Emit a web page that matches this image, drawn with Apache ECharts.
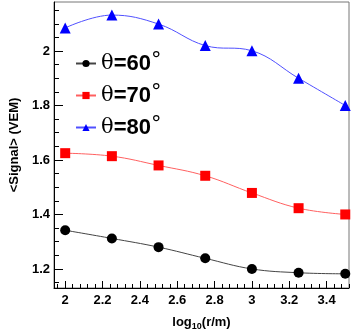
<!DOCTYPE html>
<html>
<head>
<meta charset="utf-8">
<script src="https://cdn.jsdelivr.net/npm/echarts@6/dist/echarts.min.js"></script>
<style>
  html, body { margin: 0; padding: 0; background: #fff; }
  #main { width: 354px; height: 336px; }
</style>
</head>
<body>
<div id="main"></div>
<script>
// data
var logR = [2, 2.25, 2.5, 2.75, 3, 3.25, 3.5];
var theta60 = [1.342, 1.312, 1.280, 1.239, 1.200, 1.186, 1.182];
var theta70 = [1.625, 1.614, 1.580, 1.542, 1.479, 1.423, 1.400];
var theta80 = [2.085, 2.132, 2.099, 2.020, 2.001, 1.900, 1.800];
var seriesNames = ['θ=60°', 'θ=70°', 'θ=80°'];

var xMajor = [2, 2.2, 2.4, 2.6, 2.8, 3, 3.2, 3.4];
var xMinor = [1.96, 2.04, 2.08, 2.12, 2.16, 2.24, 2.28, 2.32, 2.36, 2.44, 2.48, 2.52, 2.56,
  2.64, 2.68, 2.72, 2.76, 2.84, 2.88, 2.92, 2.96, 3.04, 3.08, 3.12, 3.16, 3.24, 3.28, 3.32,
  3.36, 3.44, 3.48, 3.52];
var yMajor = [1.2, 1.4, 1.6, 1.8, 2];
var yMinor = [1.15, 1.25, 1.3, 1.35, 1.45, 1.5, 1.55, 1.65, 1.7, 1.75, 1.85, 1.9, 1.95, 2.05, 2.1, 2.15];

var X_MIN = 1.94, X_MAX = 3.52, Y_MIN = 1.13, Y_MAX = 2.18;

var chart = echarts.init(document.getElementById('main'));

var labelFont = { fontFamily: 'Liberation Sans', fontWeight: 'bold', fontSize: 13, color: '#000' };

function pairs(ys) {
  return logR.map(function (x, i) { return [x, ys[i]]; });
}

var option = {
  animation: false,
  grid: {
    left: 45, right: 5, top: 2, bottom: 38,
    show: true, borderColor: '#777', borderWidth: 1
  },
  legend: {
    orient: 'vertical',
    left: 70, top: 46,
    itemWidth: 20, itemHeight: 9,
    itemGap: 7,
    data: seriesNames,
    formatter: function (name) {
      var num = name.replace('θ=', '').replace('°', '');
      return '{t|θ}{b|=' + num + '}{d|°}';
    },
    textStyle: {
      rich: {
        t: { fontFamily: 'DejaVu Serif', fontSize: 21, color: '#000', lineHeight: 22 },
        b: { fontFamily: 'Liberation Sans', fontWeight: 'bold', fontSize: 22, color: '#000', lineHeight: 22 },
        d: { fontFamily: 'DejaVu Sans', fontSize: 21, color: '#000', lineHeight: 22, padding: [0, 0, 4, 0] }
      }
    }
  },
  xAxis: [{
    type: 'value', min: X_MIN, max: X_MAX,
    splitLine: { show: false },
    axisLine: { lineStyle: { color: '#000', width: 1 } },
    axisTick: { inside: true, length: 7, customValues: xMajor, lineStyle: { color: '#000' } },
    axisLabel: Object.assign({ customValues: xMajor, margin: 6 }, labelFont),
    name: '{b|log}{s|10}{b|(r/m)}',
    nameLocation: 'middle', nameGap: 26,
    nameTextStyle: {
      rich: {
        b: { fontFamily: 'Liberation Sans', fontWeight: 'bold', fontSize: 13, color: '#000' },
        s: { fontFamily: 'Liberation Sans', fontWeight: 'bold', fontSize: 9, color: '#000', padding: [8, 0, 0, 0] }
      }
    }
  }, {
    type: 'value', min: X_MIN, max: X_MAX, position: 'bottom',
    splitLine: { show: false },
    axisLine: { show: false },
    axisTick: { inside: true, length: 4, customValues: xMinor, lineStyle: { color: '#000' } },
    axisLabel: { show: false }
  }],
  yAxis: [{
    type: 'value', min: Y_MIN, max: Y_MAX,
    splitLine: { show: false },
    axisLine: { show: true, lineStyle: { color: '#000', width: 1 } },
    axisTick: { show: true, inside: true, length: 9, customValues: yMajor, lineStyle: { color: '#000' } },
    axisLabel: Object.assign({ customValues: yMajor, margin: 4 }, labelFont),
    name: '<Signal> (VEM)',
    nameLocation: 'middle', nameGap: 33, nameRotate: 90,
    nameTextStyle: { fontFamily: 'Liberation Sans', fontWeight: 'bold', fontSize: 13, color: '#000' }
  }, {
    type: 'value', min: Y_MIN, max: Y_MAX, position: 'left',
    splitLine: { show: false },
    axisLine: { show: false },
    axisTick: { show: true, inside: true, length: 5, customValues: yMinor, lineStyle: { color: '#000' } },
    axisLabel: { show: false }
  }],
  series: [{
    name: seriesNames[0], type: 'line', data: pairs(theta60),
    smooth: 0.4, symbol: 'circle', symbolSize: 10,
    lineStyle: { color: '#444', width: 1 },
    itemStyle: { color: '#000' }
  }, {
    name: seriesNames[1], type: 'line', data: pairs(theta70),
    smooth: 0.4, symbol: 'rect', symbolSize: 10,
    lineStyle: { color: '#ff6060', width: 1 },
    itemStyle: { color: '#ff0000' }
  }, {
    name: seriesNames[2], type: 'line', data: pairs(theta80),
    smooth: 0.4, symbol: 'triangle', symbolSize: 11,
    lineStyle: { color: '#5050ff', width: 1 },
    itemStyle: { color: '#0000ff' }
  }]
};

chart.setOption(option);
</script>
</body>
</html>
